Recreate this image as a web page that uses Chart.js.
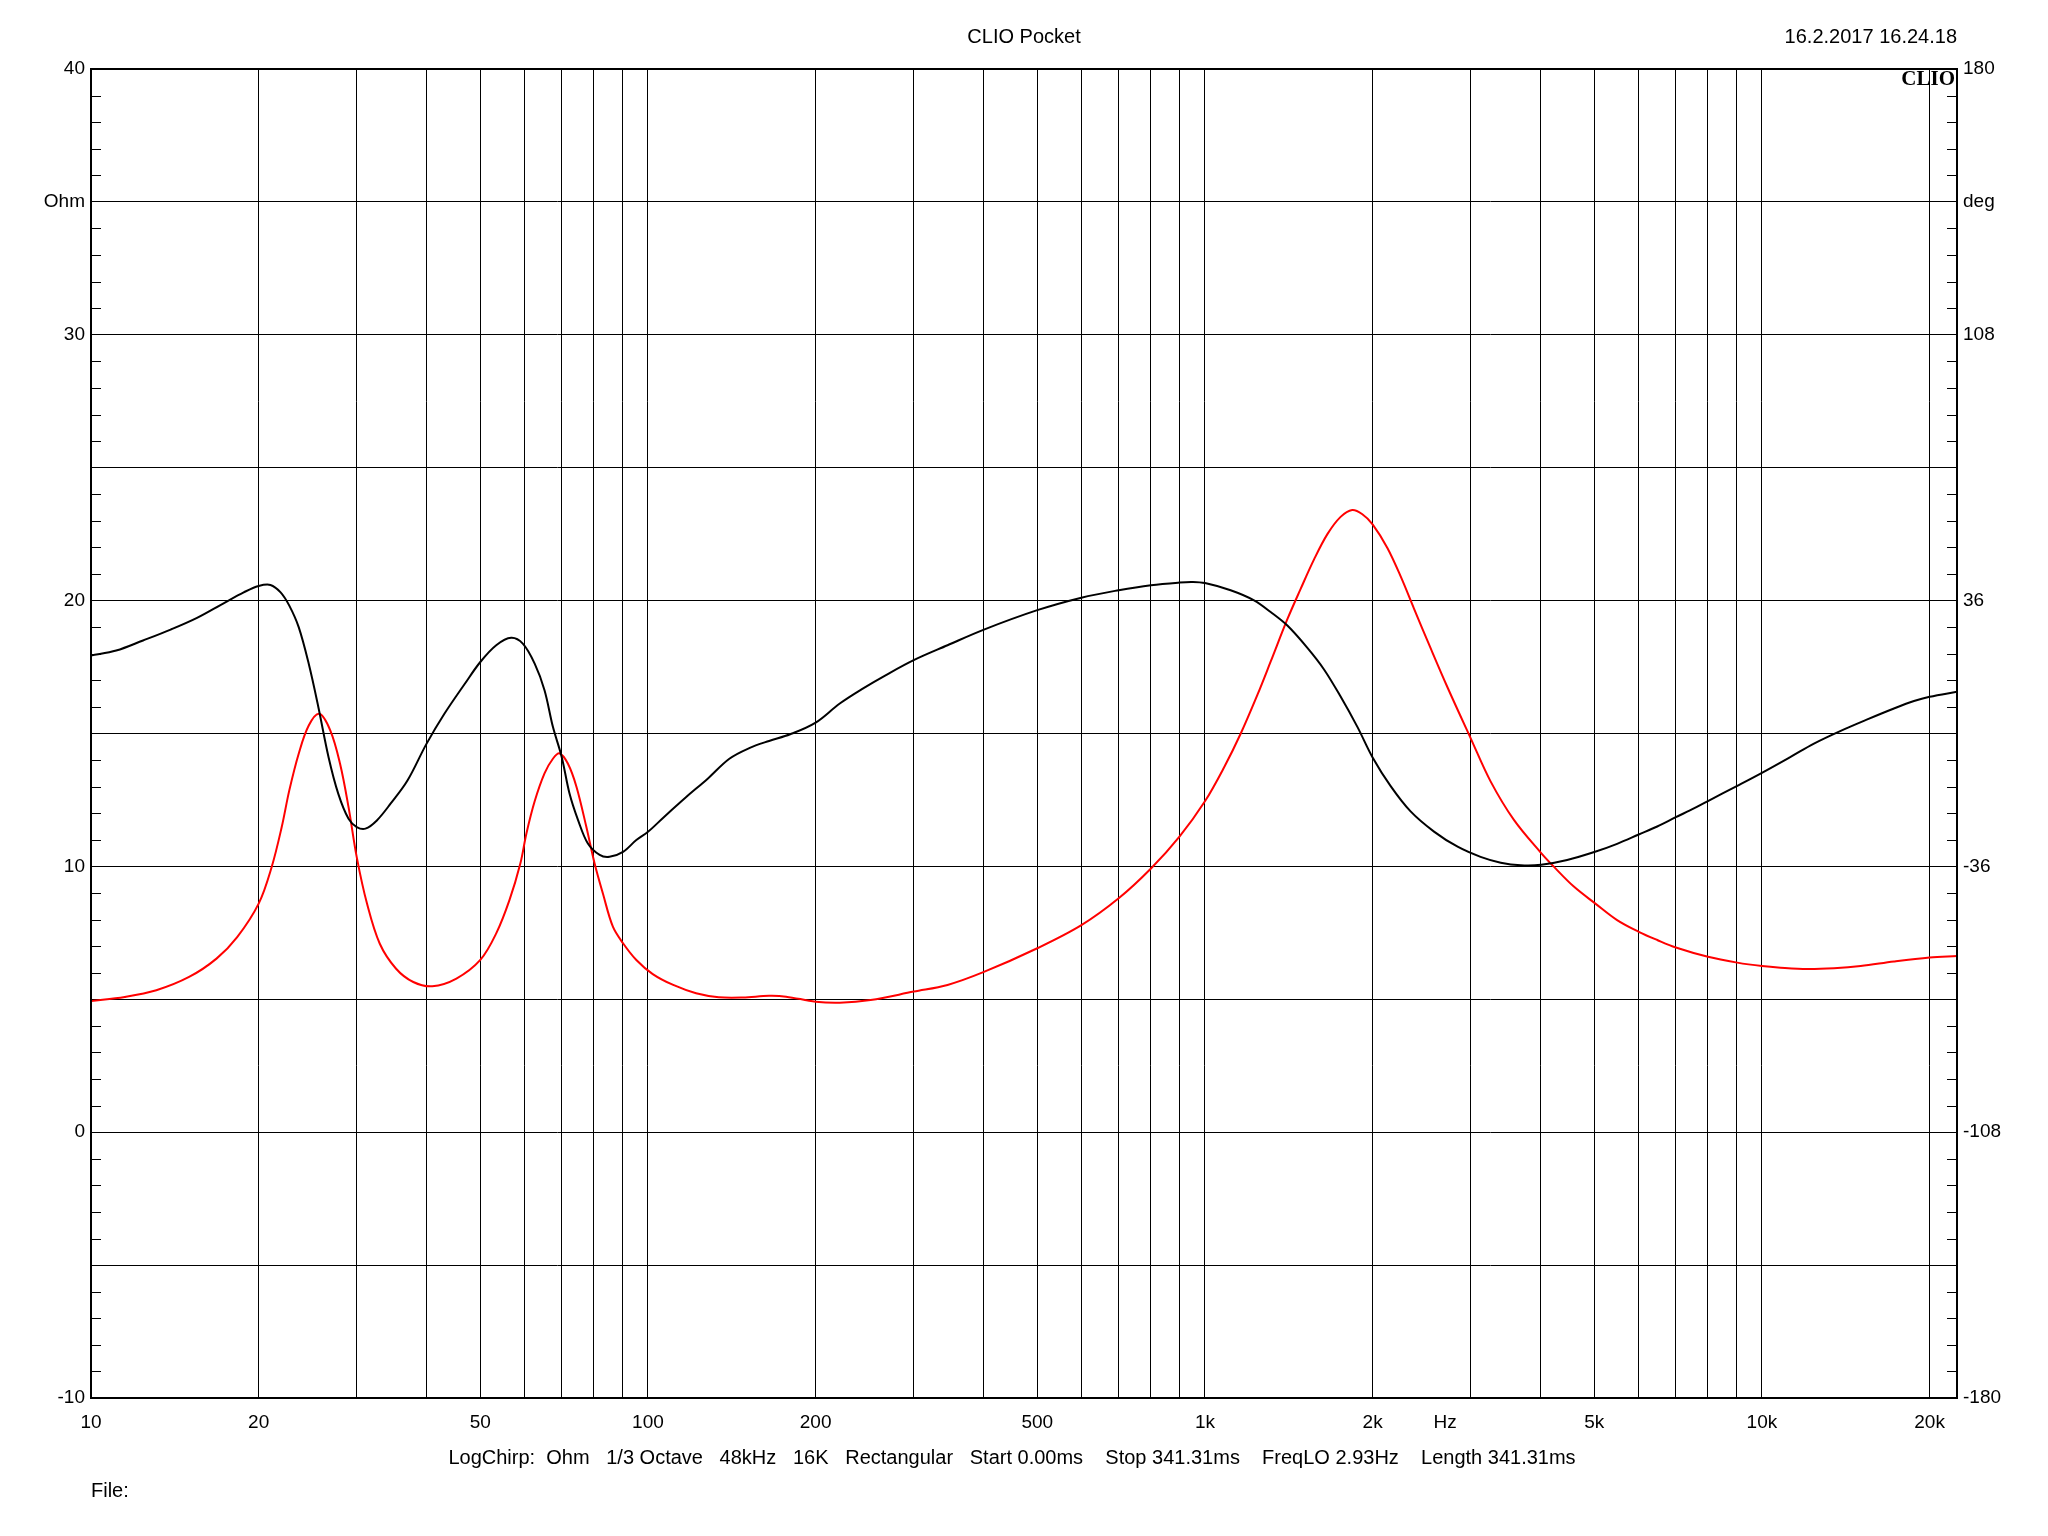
<!DOCTYPE html>
<html>
<head>
<meta charset="utf-8">
<title>CLIO Pocket</title>
<script src="https://cdn.jsdelivr.net/npm/chart.js@4.4.1/dist/chart.umd.min.js"></script>
<style>
    html, body { margin: 0; padding: 0; background: #fff; }
    #wrap { width: 2048px; height: 1536px; }
</style>
</head>
<body>
<div id="wrap"><canvas id="clio-chart" width="2048" height="1536"></canvas></div>
<script>
// Black trace: frequency (Hz) / impedance (Ohm)
const blackFreq = [10, 11.1, 12.4, 13.9, 15.5, 17.3, 18.8, 20, 21, 21.9, 22.7, 23.6, 24.6, 25.6, 26.7, 27.8, 29, 30, 31.1, 32.6,
    34.5, 37, 40, 43.1, 46.9, 50, 53.4, 56.8, 59.6, 62.6, 65.2, 67.5, 70, 72.3, 74.9, 78, 81.9, 85.3, 90.2, 95.3,
    100, 107, 117, 128, 140, 152, 165, 180, 200, 221, 243, 267, 300, 345, 400, 500, 600, 700, 800, 900,
    950, 1000, 1112, 1225, 1312, 1406, 1526, 1636, 1752, 1878, 2000, 2155, 2340, 2578, 2842, 3125, 3397, 3691, 4015, 4470,
    5017, 5495, 6010, 6487, 7006, 7547, 8000, 9030, 10000, 11260, 12400, 13850, 15460, 17260, 18750, 20000, 22400];
const blackOhm = [17.93, 18.12, 18.5, 18.91, 19.35, 19.9, 20.31, 20.55, 20.59, 20.31, 19.81, 19.0, 17.62, 15.99, 14.11, 12.73, 11.79, 11.48, 11.42, 11.73,
    12.36, 13.23, 14.6, 15.74, 16.87, 17.69, 18.32, 18.6, 18.38, 17.63, 16.63, 15.25, 14.12, 12.74, 11.74, 10.86, 10.43, 10.36, 10.55, 10.99,
    11.3, 11.87, 12.6, 13.3, 14.05, 14.45, 14.72, 14.97, 15.41, 16.13, 16.69, 17.19, 17.76, 18.32, 18.9, 19.64, 20.11, 20.39, 20.58, 20.68,
    20.7, 20.66, 20.39, 20.01, 19.57, 19.06, 18.23, 17.41, 16.39, 15.25, 14.1, 13.02, 12.07, 11.31, 10.74, 10.36, 10.14, 10.04, 10.06, 10.24,
    10.55, 10.85, 11.2, 11.5, 11.85, 12.18, 12.46, 13.03, 13.52, 14.12, 14.62, 15.1, 15.53, 15.94, 16.22, 16.38, 16.57];

// Red trace: frequency (Hz) / impedance (Ohm)
const redFreq = [10, 11.5, 13.1, 15, 16.8, 18.3, 20, 21.1, 22, 22.7, 23.6, 24.6, 25.7, 26.9, 28, 29, 30, 31.3, 33, 35.3,
    37.9, 41, 45.3, 50, 53.4, 56.4, 59, 60.5, 62.6, 65.2, 67.5, 69.4, 71.8, 74.4, 77.5, 80.2, 83, 86.5, 90.2, 95.3,
    102, 111, 122, 134, 148, 165, 177, 200, 221, 251, 300, 345, 400, 500, 600, 700, 800, 900, 1000, 1082,
    1159, 1242, 1312, 1406, 1486, 1570, 1659, 1752, 1838, 1917, 2000, 2126, 2247, 2373, 2543, 2724, 3003, 3257, 3587, 4015,
    4230, 4595, 5017, 5495, 6010, 6487, 7006, 8000, 9030, 10000, 10800, 12060, 13470, 15040, 17260, 20000, 22400];
const redOhm = [4.94, 5.09, 5.34, 5.84, 6.53, 7.34, 8.6, 9.97, 11.48, 12.86, 14.24, 15.3, 15.74, 15.11, 13.86, 12.23, 10.35, 8.6, 7.09, 6.15,
    5.65, 5.49, 5.78, 6.48, 7.48, 8.73, 10.11, 11.24, 12.45, 13.5, 14.05, 14.25, 13.87, 13.0, 11.49, 10.11, 8.98, 7.73, 7.11, 6.48,
    5.95, 5.54, 5.23, 5.08, 5.07, 5.13, 5.1, 4.91, 4.87, 4.97, 5.29, 5.54, 6.02, 6.92, 7.79, 8.8, 9.92, 11.12, 12.45, 13.72,
    14.99, 16.45, 17.7, 19.3, 20.45, 21.55, 22.5, 23.15, 23.41, 23.25, 22.87, 21.98, 20.9, 19.7, 18.2, 16.75, 14.8, 13.2, 11.75, 10.5,
    9.99, 9.24, 8.61, 7.98, 7.54, 7.23, 6.95, 6.6, 6.38, 6.25, 6.19, 6.14, 6.17, 6.25, 6.42, 6.57, 6.63];

// Frequency axis: grid lines at every 1-9 step, a few of them labelled
const freqGrid = [10, 20, 30, 40, 50, 60, 70, 80, 90,
    100, 200, 300, 400, 500, 600, 700, 800, 900,
    1000, 2000, 3000, 4000, 5000, 6000, 7000, 8000, 9000,
    10000, 20000];
const freqLabels = { 10: '10', 20: '20', 50: '50', 100: '100', 200: '200', 500: '500',
    1000: '1k', 2000: '2k', 2700: 'Hz', 5000: '5k', 10000: '10k', 20000: '20k' };
const unitTick = 2700;

// Left axis (Ohm) and right axis (deg)
const ohmLabels = { '-10': '-10', 0: '0', 10: '10', 20: '20', 30: '30', 35: 'Ohm', 40: '40' };
const degTicks = [-180, -108, -36, 36, 108, 144, 180];
const degLabels = { '-180': '-180', '-108': '-108', '-36': '-36', 36: '36', 108: '108', 144: 'deg', 180: '180' };

const titleText = 'CLIO Pocket';
const dateText = '16.2.2017 16.24.18';
const footerText = 'LogChirp:  Ohm   1/3 Octave   48kHz   16K   Rectangular   Start 0.00ms    Stop 341.31ms    FreqLO 2.93Hz    Length 341.31ms';

const FONT = '"Liberation Sans", Arial, sans-serif';

const ClioChart = {
    init: function(canvas) {
        this.canvas = canvas;
        Chart.defaults.font.family = FONT;
        Chart.defaults.font.size = 19;
        Chart.defaults.color = '#000';
        this.render();
    },

    toPoints: function(freqs, values) {
        return freqs.map((f, i) => ({ x: f, y: values[i] }));
    },

    // frame, inner minor ticks and the header / footer texts
    decorations: {
        id: 'clioDecorations',
        afterDraw: function(chart) {
            const ctx = chart.ctx;
            const area = chart.chartArea;
            const y = chart.scales.y;
            ctx.save();

            ctx.strokeStyle = '#000';
            ctx.lineWidth = 1;
            ctx.beginPath();
            for (let v = y.min; v <= y.max; v++) {
                if (v % 5 === 0) continue;
                const py = Math.round(y.getPixelForValue(v)) + 0.5;
                ctx.moveTo(area.left, py);
                ctx.lineTo(area.left + 10, py);
                ctx.moveTo(area.right, py);
                ctx.lineTo(area.right - 10, py);
            }
            ctx.stroke();

            ctx.lineWidth = 2;
            ctx.strokeRect(area.left, area.top, area.right - area.left, area.bottom - area.top);

            ctx.fillStyle = '#000';
            ctx.textBaseline = 'middle';
            ctx.font = '20px ' + FONT;
            ctx.textAlign = 'center';
            ctx.fillText(titleText, 1024, 37);
            ctx.textAlign = 'right';
            ctx.fillText(dateText, area.right, 37);
            ctx.textAlign = 'center';
            ctx.fillText(footerText, 1012, 1458);
            ctx.textAlign = 'left';
            ctx.fillText('File:', area.left, 1491);

            ctx.font = 'bold 21px "Liberation Serif", "Times New Roman", serif';
            ctx.textAlign = 'right';
            ctx.fillText('CLIO', area.right - 2, area.top + 11);

            ctx.restore();
        }
    },

    render: function() {
        const ctx = this.canvas.getContext('2d');

        this.chart = new Chart(ctx, {
            type: 'line',
            data: {
                datasets: [
                    {
                        label: 'Black',
                        data: this.toPoints(blackFreq, blackOhm),
                        borderColor: '#000000',
                        borderWidth: 2,
                        pointRadius: 0,
                        tension: 0.35,
                        yAxisID: 'y'
                    },
                    {
                        label: 'Red',
                        data: this.toPoints(redFreq, redOhm),
                        borderColor: '#ff0000',
                        borderWidth: 2,
                        pointRadius: 0,
                        tension: 0.35,
                        yAxisID: 'y'
                    }
                ]
            },
            options: {
                responsive: false,
                animation: false,
                layout: { padding: { left: 0, right: 0, top: 69, bottom: 88 } },
                plugins: {
                    legend: { display: false },
                    tooltip: { enabled: false }
                },
                scales: {
                    x: {
                        type: 'logarithmic',
                        min: 10,
                        max: 22400,
                        afterBuildTicks: function(scale) {
                            const vals = freqGrid.concat([unitTick]).sort((a, b) => a - b);
                            scale.ticks = vals.map(v => ({ value: v }));
                        },
                        afterFit: function(scale) { scale.height = 50; },
                        grid: {
                            drawTicks: false,
                            color: function(c) {
                                return c.tick && c.tick.value === unitTick ? 'rgba(0,0,0,0)' : '#000';
                            },
                            lineWidth: 1
                        },
                        border: { display: false },
                        ticks: {
                            autoSkip: false,
                            maxRotation: 0,
                            padding: 13,
                            callback: function(value) {
                                return freqLabels[value] || '';
                            }
                        }
                    },
                    y: {
                        type: 'linear',
                        position: 'left',
                        min: -10,
                        max: 40,
                        afterFit: function(scale) { scale.width = 91; },
                        grid: {
                            drawTicks: false,
                            color: function(c) {
                                return c.tick && c.tick.value % 5 === 0 ? '#000' : 'rgba(0,0,0,0)';
                            },
                            lineWidth: 1
                        },
                        border: { display: false },
                        ticks: {
                            stepSize: 1,
                            autoSkip: false,
                            padding: 6,
                            callback: function(value) {
                                return ohmLabels[value] || '';
                            }
                        }
                    },
                    y2: {
                        type: 'linear',
                        position: 'right',
                        min: -180,
                        max: 180,
                        afterBuildTicks: function(scale) {
                            scale.ticks = degTicks.map(v => ({ value: v }));
                        },
                        afterFit: function(scale) { scale.width = 91; },
                        grid: { display: false, drawTicks: false },
                        border: { display: false },
                        ticks: {
                            autoSkip: false,
                            padding: 6,
                            callback: function(value) {
                                return degLabels[value] || '';
                            }
                        }
                    }
                }
            },
            plugins: [this.decorations]
        });
    }
};

ClioChart.init(document.getElementById('clio-chart'));
</script>
</body>
</html>
